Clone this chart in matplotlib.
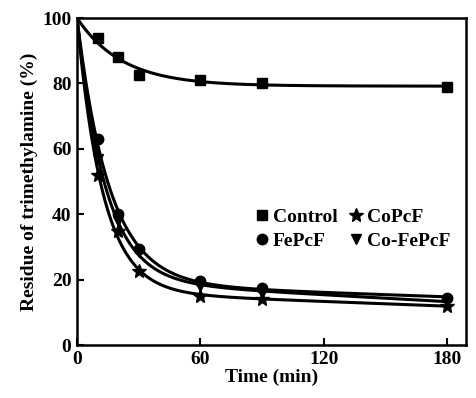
import numpy as np
import matplotlib
matplotlib.use("Agg")
import matplotlib.pyplot as plt

plt.rcParams['font.family'] = ['Liberation Serif', 'DejaVu Serif']
plt.rcParams['font.weight'] = 'bold'

# Sampling times (min) and residue of trimethylamine (%)
time_min = [0, 10, 20, 30, 60, 90, 180]
control = [100, 94, 88, 82.5, 81, 80, 79]
fepcf = [100, 63, 40, 29.5, 19.5, 17.5, 14.5]
copcf = [100, 52, 35, 22.5, 15, 14, 12]
cofepcf = [100, 57, 38, 28.5, 18, 16, 13.5]

series = [
    ("Control", control, "s", 7.5),
    ("FePcF", fepcf, "o", 7.5),
    ("CoPcF", copcf, "*", 10),
    ("Co-FePcF", cofepcf, "v", 7.5),
]


def fit_curve(t, y):
    """Fit y = b + c*t + (100-b)*exp(-k*t) by grid search on k."""
    t = np.asarray(t, float)
    y = np.asarray(y, float)
    best = None
    for k in np.linspace(0.005, 0.3, 600):
        e = np.exp(-k * t)
        A = np.column_stack([1 - e, t])
        rhs = y - 100 * e
        coef, *_ = np.linalg.lstsq(A, rhs, rcond=None)
        err = np.sum((A @ coef - rhs) ** 2)
        if best is None or err < best[0]:
            best = (err, k, coef)
    _, k, (b, c) = best
    tt = np.linspace(0, t.max(), 400)
    return tt, b + c * tt + (100 - b) * np.exp(-k * tt)


fig = plt.figure(figsize=(4.76, 3.98), dpi=100)
ax = fig.add_axes([77 / 476, 53 / 398, 389 / 476, 327 / 398])

handles = []
for name, vals, mk, ms in series:
    tt, yy = fit_curve(time_min, vals)
    ax.plot(tt, yy, color='black', lw=2.2)
    h, = ax.plot(time_min[1:], vals[1:], linestyle='none', marker=mk,
                 color='black', markersize=ms, label=name)
    handles.append(h)

ax.set_xlim(0, 189)
ax.set_ylim(0, 100)
ax.set_xticks([0, 60, 120, 180])
ax.set_yticks([0, 20, 40, 60, 80, 100])
ax.tick_params(direction='in', length=5, width=1.5, labelsize=14, pad=4)
for lab in ax.get_xticklabels() + ax.get_yticklabels():
    lab.set_fontweight('bold')
for sp in ax.spines.values():
    sp.set_linewidth(1.8)

ax.set_xlabel("Time (min)", fontsize=14, fontweight='bold', labelpad=1)
ax.set_ylabel("Residue of trimethylamine (%)", fontsize=14, fontweight='bold', labelpad=3)

ax.legend(handles=handles, ncol=2,
          loc='center left', bbox_to_anchor=(0.458, 0.355), frameon=False,
          prop={'size': 14, 'weight': 'bold'}, handlelength=0.5,
          handletextpad=0.3, columnspacing=0.7, labelspacing=0.35,
          borderpad=0.1, borderaxespad=0)

fig.savefig("out.png", dpi=100)
